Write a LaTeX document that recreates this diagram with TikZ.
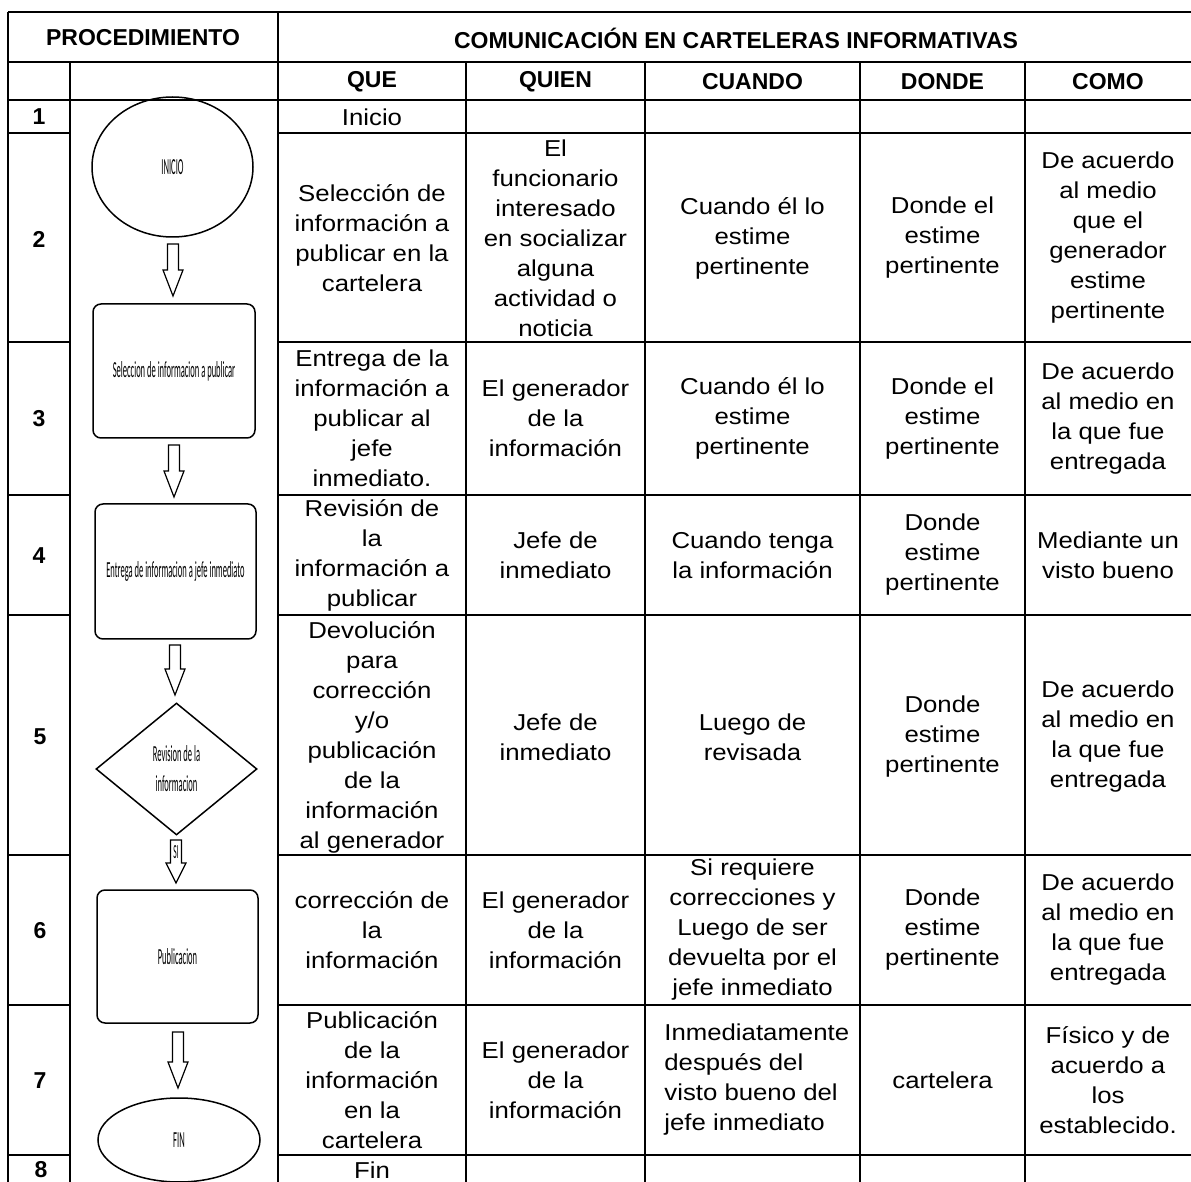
\documentclass[tikz,border=0pt]{standalone}
\usepackage{fontspec}
\setmainfont{Liberation Sans}[FakeStretch=1.12]
\newfontfamily\headfont{Liberation Sans}
\newfontfamily\flowfont{Carlito}[FakeStretch=0.37]
\usetikzlibrary{shapes.geometric,calc}
\tikzset{
 gridline/.style={line width=0.8pt},
 cell/.style={align=center, inner sep=0pt, font=\fontsize{11.5}{15}\selectfont},
 head/.style={align=center, inner sep=0pt, font=\headfont\bfseries\fontsize{11.5}{13}\selectfont},
 num/.style={inner sep=0pt, font=\headfont\bfseries\fontsize{11.5}{13}\selectfont},
 flow/.style={draw, line width=0.75pt, inner sep=0pt, align=center, font=\flowfont\fontsize{11.5}{15}\selectfont},
 term/.style={flow, ellipse},
 proc/.style={flow, rectangle, rounded corners=4pt},
 dec/.style={flow, diamond},
 blk/.style={draw, line width=0.6pt, fill=white, line join=miter},
}
% block arrow from coordinate #1 down to coordinate #2, head length #3
\newcommand\blockarrow[3]{%
 \draw[blk] let \p1=(#1), \p2=(#2) in
  (\x1-2.75pt,\y1) -- (\x1+2.75pt,\y1) -- (\x1+2.75pt,\y2+#3) -- (\x1+5pt,\y2+#3)
  -- (\x1,\y2) -- (\x1-5pt,\y2+#3) -- (\x1-2.75pt,\y2+#3) -- cycle;}
\begin{document}
\begin{tikzpicture}[x=0.5pt,y=-0.5pt]
\useasboundingbox (0,0) rectangle (1191,1182);
% grid
\draw[gridline] (8,12) -- (1191,12);
\foreach \yy in {62,100}
  \draw[gridline] (8,\yy) -- (1191,\yy);
\foreach \yy in {133,342,495,615,855,1005,1155}{
  \draw[gridline] (8,\yy) -- (70,\yy);
  \draw[gridline] (278,\yy) -- (1191,\yy);}
\draw[gridline] (8,12) -- (8,1182);
\draw[gridline] (70,62) -- (70,1182);
\draw[gridline] (278,12) -- (278,1182);
\foreach \xx in {466,645,860,1025}
  \draw[gridline] (\xx,62) -- (\xx,1182);
% headers
\node[head] (hproc) at (143,38) {PROCEDIMIENTO};
\node[head] (hcom) at (736,38) {COMUNICACIÓN EN CARTELERAS INFORMATIVAS};
\node[head] (hque) at (372,82) {QUE};
\node[head] (hquien) at (555.5,82) {QUIEN};
\node[head] (hcuando) at (752.5,82) {CUANDO};
\node[head] (hdonde) at (942.5,82) {DONDE};
\node[head] (hcomo) at (1108,82) {COMO};
% numbers
\node[num] (n1) at (39,117) {1};
\node[num] (n2) at (39,239) {2};
\node[num] (n3) at (39,419) {3};
\node[num] (n4) at (39,556) {4};
\node[num] (n5) at (40,737) {5};
\node[num] (n6) at (40,931) {6};
\node[num] (n7) at (40,1081) {7};
\node[num] (n8) at (41,1170) {8};
% row 1
\node[cell] (q1) at (372,117) {Inicio};
% row 2
\node[cell] (q2) at (372,238) {Selección de\\información a\\publicar en la\\cartelera};
\node[cell] (w2) at (555.5,238) {El\\funcionario\\interesado\\en socializar\\alguna\\actividad o\\noticia};
\node[cell] (c2) at (752.5,238) {Cuando él lo\\estime\\pertinente};
\node[cell] (d2) at (942.5,238) {Donde el\\estime\\pertinente};
\node[cell] (m2) at (1108,238) {De acuerdo\\al medio\\que el\\generador\\estime\\pertinente};
% row 3
\node[cell] (q3) at (372,418.5) {Entrega de la\\información a\\publicar al\\jefe\\inmediato.};
\node[cell] (w3) at (555.5,418.5) {El generador\\de la\\información};
\node[cell] (c3) at (752.5,418.5) {Cuando él lo\\estime\\pertinente};
\node[cell] (d3) at (942.5,418.5) {Donde el\\estime\\pertinente};
\node[cell] (m3) at (1108,418.5) {De acuerdo\\al medio en\\la que fue\\entregada};
% row 4
\node[cell] (q4) at (372,555) {Revisión de\\la\\información a\\publicar};
\node[cell] (w4) at (555.5,555) {Jefe de\\inmediato};
\node[cell] (c4) at (752.5,555) {Cuando tenga\\la información};
\node[cell] (d4) at (942.5,555) {Donde\\estime\\pertinente};
\node[cell] (m4) at (1108,555) {Mediante un\\visto bueno};
% row 5
\node[cell] (q5) at (372,737) {Devolución\\para\\corrección\\y/o\\publicación\\de la\\información\\al generador};
\node[cell] (w5) at (555.5,737) {Jefe de\\inmediato};
\node[cell] (c5) at (752.5,737) {Luego de\\revisada};
\node[cell] (d5) at (942.5,737) {Donde\\estime\\pertinente};
\node[cell] (m5) at (1108,737) {De acuerdo\\al medio en\\la que fue\\entregada};
% row 6
\node[cell] (q6) at (372,930) {corrección de\\la\\información};
\node[cell] (w6) at (555.5,930) {El generador\\de la\\información};
\node[cell] (c6) at (752.5,930) {Si requiere\\correcciones y\\Luego de ser\\devuelta por el\\jefe inmediato};
\node[cell] (d6) at (942.5,930) {Donde\\estime\\pertinente};
\node[cell] (m6) at (1108,930) {De acuerdo\\al medio en\\la que fue\\entregada};
% row 7
\node[cell] (q7) at (372,1080) {Publicación\\de la\\información\\en la\\cartelera};
\node[cell] (w7) at (555.5,1080) {El generador\\de la\\información};
\node[cell, align=left, anchor=west] (c7) at (664,1080) {Inmediatamente\\después del\\visto bueno del\\jefe inmediato};
\node[cell] (d7) at (942.5,1080) {cartelera};
\node[cell] (m7) at (1108,1080) {Físico y de\\acuerdo a\\los\\establecido.};
% row 8
\node[cell] (q8) at (372,1170) {Fin};
% flowchart
\node[term, minimum width=80.5pt, minimum height=70pt] (ini) at (172.5,167) {INICIO};
\node[proc, minimum width=81pt, minimum height=67pt] (sel) at (174,371) {Seleccion de informacion a publicar};
\node[proc, minimum width=80.5pt, minimum height=67.5pt] (ent) at (175.5,571.5) {Entrega de informacion a jefe inmediato};
\node[dec, minimum width=80.5pt, minimum height=66pt] (rev) at (176.5,769) {Revision de la\\informacion};
\node[proc, minimum width=80.5pt, minimum height=66.5pt] (pub) at (177.5,956.5) {Publicacion};
\node[term, minimum width=81pt, minimum height=42pt] (fin) at (179,1140) {FIN};
% arrows
\coordinate (a1s) at (173,244); \coordinate (a1e) at (173,296);
\coordinate (a2s) at (174,445); \coordinate (a2e) at (174,497);
\coordinate (a3s) at (175,645); \coordinate (a3e) at (175,695);
\coordinate (a4s) at (176,840); \coordinate (a4e) at (176,883);
\coordinate (a5s) at (178,1032); \coordinate (a5e) at (178,1088);
\blockarrow{a1s}{a1e}{13pt}
\blockarrow{a2s}{a2e}{13pt}
\blockarrow{a3s}{a3e}{13pt}
\blockarrow{a4s}{a4e}{10pt}
\blockarrow{a5s}{a5e}{13pt}
\node[inner sep=0pt, font=\flowfont\fontsize{10}{11}\selectfont] (si) at (176,852) {SI};
\end{tikzpicture}
\end{document}
